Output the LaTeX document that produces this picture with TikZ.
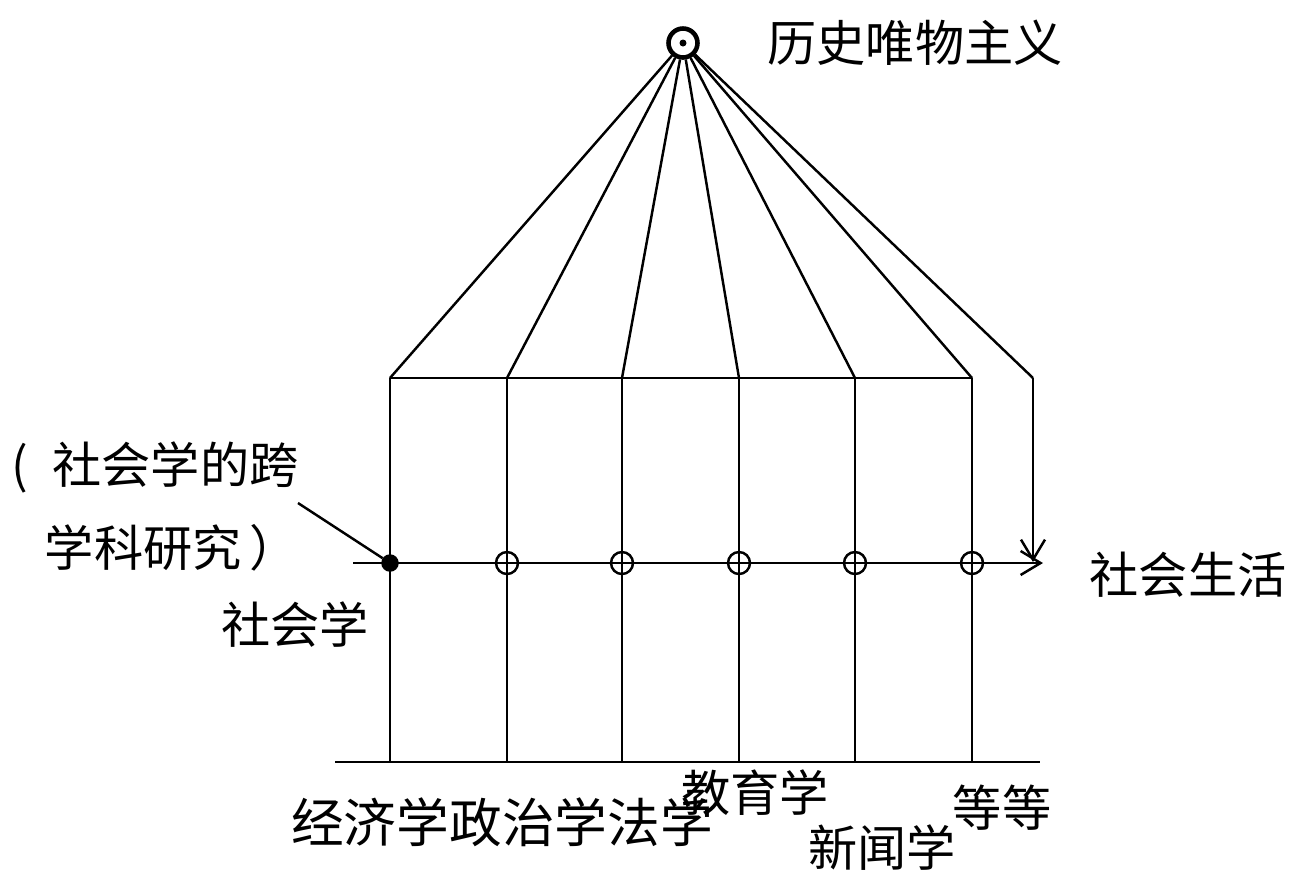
\documentclass[tikz,border=0pt]{standalone}
\usepackage{fontspec}
\setmainfont{Noto Sans CJK SC}
\usetikzlibrary{positioning,arrows.meta}

\begin{document}
\begin{tikzpicture}[x=0.1mm, y=-0.1mm, line width=0.7pt, >={Straight Barb[length=2mm, width=2.4mm]},
    lab/.style={font=\fontsize{14}{16}\selectfont, inner sep=0pt},
    dot/.style={circle, draw, inner sep=0pt, minimum size=2.2mm},
    soliddot/.style={circle, draw, fill, inner sep=0pt, minimum size=1.5mm}]
    \useasboundingbox (0,0) rectangle (1297,873);

    \node[circle, draw, line width=1.3pt, inner sep=0pt, minimum size=2.9mm] (HM) at (683,43) {};
    \fill (HM.center) circle (0.35mm);
    \node[lab] (HMLabel) at (915,43) {历史唯物主义};

    \foreach \x/\s [count=\i] in {390/soliddot, 507/dot, 622/dot, 739/dot, 855/dot, 972/dot} {
        \coordinate (T\i) at (\x,378);
        \coordinate (B\i) at (\x,762);
        \node[\s] (S\i) at (\x,563) {};
        \draw (HM) -- (T\i);
        \draw (T\i) -- (B\i);
    }
    \draw (T1) -- (T6);

    \coordinate (R) at (1033,378);
    \coordinate (RE) at (1033,562);
    \draw (HM) -- (R);
    \draw[->] (R) -- (RE);

    \coordinate (MidL) at (353,563);
    \coordinate (MidR) at (1043,563);
    \draw[->] (MidL) -- (MidR);

    \coordinate (BotL) at (335,762);
    \coordinate (BotR) at (1040,762);
    \draw (BotL) -- (BotR);

    \node[lab, anchor=west] (Note1) at (10,467) {(\hspace{0.5em}社会学的跨};
    \node[lab] (Note2) at (172,548) {学科研究\,）};
    \coordinate (P) at (298,503);
    \draw (P) -- (S1);
    \node[lab] (Soc) at (295,625) {社会学};
    \node[lab] (Life) at (1188,575) {社会生活};

    \node[lab, font=\fontsize{15}{17}\selectfont] (Econ) at (502,822) {经济学政治学法学};
    \node[lab] (Edu) at (755,793) {教育学};
    \node[lab] (News) at (882,848) {新闻学};
    \node[lab] (Etc) at (1002,808) {等等};
\end{tikzpicture}
\end{document}
